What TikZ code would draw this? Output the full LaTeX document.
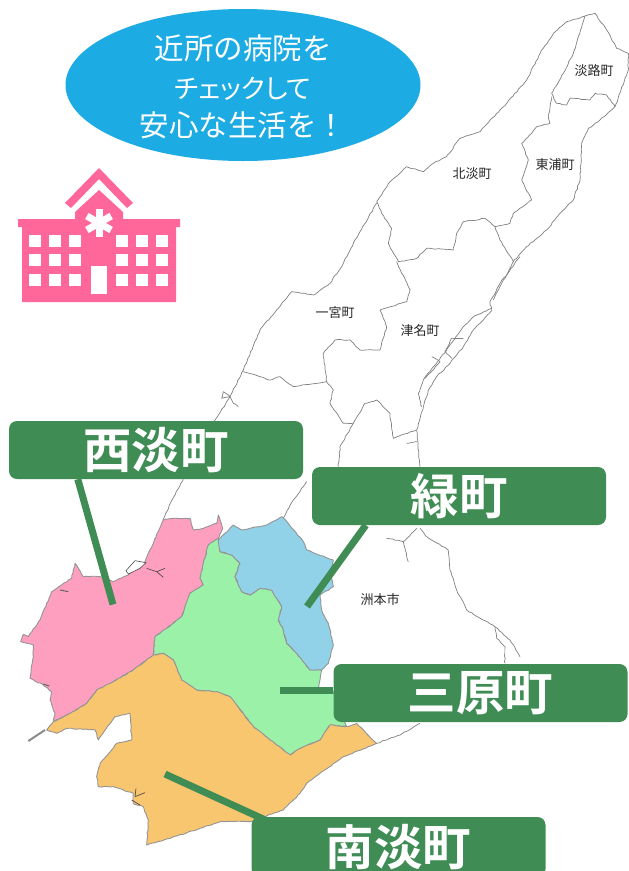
\documentclass[tikz,border=0pt]{standalone}
\usepackage{fontspec}
\usetikzlibrary{calc,shapes.geometric,decorations.pathmorphing}
\newfontfamily\cjk{Noto Sans CJK JP}[BoldFont={Noto Sans CJK JP Bold}]
\newfontfamily\cjkp{Noto Sans CJK JP}[RawFeature=+palt]
\definecolor{lblgreen}{HTML}{3F8C55}
\definecolor{bubble}{HTML}{1CABE3}
\definecolor{hosp}{HTML}{FF6699}
\definecolor{tpink}{HTML}{FF9FC0}
\definecolor{tblue}{HTML}{92D2E8}
\definecolor{tgreen}{HTML}{9CF1A9}
\definecolor{torange}{HTML}{F9C670}
\pgfmathsetseed{7}
\tikzset{
  z1/.style={shift={(300,0)},x=0.33333pt,y=-0.33333pt},
  z2/.style={shift={(180,180)},x=0.33333pt,y=-0.33333pt},
  z3/.style={shift={(0,500)},x=0.33333pt,y=-0.33333pt},
  z4/.style={shift={(200,500)},x=0.33333pt,y=-0.33333pt},
  mapline/.style={draw=black!50,line width=0.7pt,line join=round,decorate,decoration={random steps,segment length=3pt,amplitude=0.5pt}},
  town/.style={draw=black!42,line width=0.9pt,line join=round,decorate,decoration={random steps,segment length=3pt,amplitude=0.45pt}},
  maplabel/.style={font=\cjk\fontsize{13}{14}\selectfont,text=black!85,inner sep=0pt},
  banner/.style={fill=lblgreen,rounded corners=8pt,minimum width=294pt,minimum height=58pt,inner sep=0pt,text=white,font=\cjk\bfseries\fontsize{48.5}{50}\selectfont},
  leader/.style={draw=lblgreen,line width=7pt},
  window/.style={fill=white,minimum size=12pt,inner sep=0pt},
}
\begin{document}
\begin{tikzpicture}[x=1pt,y=-1pt]
\clip (0,0) rectangle (629,871);
\fill[white] (0,0) rectangle (629,871);

% island outline and municipal borders
\begin{scope}[z1]
\draw[mapline] (885,40)--(855,48)--(800,65)--(760,100)--(720,160)--(680,240)--(620,310)--(590,340)--(540,395)--(480,415)--(440,470)--(400,490)--(370,515)--(320,500)--(270,545)--(230,605);
\draw[mapline] (885,40)--(920,90)--(950,145)--(985,160)--(985,210)--(945,320)--(900,360)--(865,385)--(845,430)--(840,540)--(820,600)--(780,640)--(740,690)--(680,740)--(640,785)--(600,860)--(580,900);
\draw[mapline] (855,48)--(835,110)--(820,160)--(790,220)--(755,280)--(770,310)--(800,315)--(810,295)--(870,300)--(885,280)--(920,285)--(945,320);
\draw[mapline] (755,290)--(745,350)--(750,370)--(710,380)--(695,400)--(665,430)--(685,480)--(665,540)--(695,600)--(640,640)--(630,670)--(585,680)--(555,655)--(490,665)--(470,700)--(460,750)--(380,745)--(350,775)--(295,785)--(265,730)--(275,685)--(245,640)--(230,605);
\draw[mapline] (585,680)--(600,720)--(640,785);
\end{scope}
\begin{scope}[z2]
\draw[mapline] (590,70)--(520,190)--(490,250)--(450,310)--(400,345)--(335,335)--(290,390)--(240,450)--(190,570)--(150,650)--(105,720)--(-24,960)--(-51,1020);
\draw[mapline] (1020,230)--(960,310)--(930,365)--(935,392);
\draw[mapline] (935,385)--(880,410)--(850,440)--(800,510)--(760,560)--(730,600)--(715,640)--(725,680);
\draw[mapline] (935,392)--(880,450)--(850,500)--(810,550)--(770,590)--(745,630)--(730,680)--(710,750)--(720,860);
\draw[mapline] (795,515)--(815,535) (850,475)--(815,475)--(795,515) (755,530)--(780,545)--(735,595);
\draw[mapline] (650,245)--(690,330)--(680,365)--(600,390)--(620,440)--(600,510)--(540,510)--(510,480)--(465,480)--(430,520)--(440,605)--(340,620)--(300,590)--(270,600)--(190,575);
\draw[mapline] (440,605)--(460,630)--(450,670)--(490,730)--(520,730)--(555,670)--(590,660)--(630,700)--(640,775)--(710,750);
\draw[mapline] (520,730)--(480,800)--(475,860) (380,905)--(340,960)--(310,1015);
\draw[mapline] (680,790)--(712,785);
\draw[mapline] (125,655)--(130,635)--(150,650)--(125,655) (150,650)--(160,670)--(175,680);
\end{scope}
\begin{scope}[z4]
\draw[mapline] (660,85)--(680,110)--(745,150)--(750,210)--(770,270)--(800,330)--(885,380)--(930,420)--(960,470);
\draw[mapline] (885,380)--(890,415)--(915,440)--(915,490);
\draw[mapline] (560,115)--(610,125)--(625,185) (610,125)--(650,85);
\draw[mapline] (660,670)--(600,705)--(530,730);
\end{scope}

% the four coloured towns
\begin{scope}[z3]
\draw[town,fill=tpink] (490,60)--(520,55)--(570,55)--(580,90)--(610,85)--(650,70)--(655,45)--(668,85)--(655,115)--(625,135)--(610,190)--(600,235)--(610,255)--(570,280)--(545,350)--(500,385)--(465,410)--(460,465)--(400,510)--(340,545)--(290,570)--(260,610)--(210,640)--(160,665)--(165,640)--(150,600)--(155,575)--(130,555)--(90,535)--(100,470)--(100,435)--(62,425)--(70,403)--(85,410)--(120,360)--(155,275)--(215,235)--(225,190)--(250,230)--(300,230)--(340,245)--(385,225)--(435,185)--cycle;
\draw[town,fill=tgreen] (655,115)--(625,135)--(610,190)--(600,235)--(610,255)--(570,280)--(545,350)--(500,385)--(465,410)--(460,465)--(490,460)--(520,480)--(545,540)--(590,570)--(650,575)--(690,590)--(760,680)--(830,735)--(870,765)--(900,745)--(960,720)--(990,675)--(1040,680)--(1000,575)--(955,565)--(965,510)--(930,510)--(890,460)--(860,430)--(850,390)--(835,360)--(845,320)--(815,270)--(780,265)--(750,285)--(725,275)--(705,230)--(720,190)--(695,165)--(660,155)--cycle;
\draw[town,fill=torange] (490,460)--(520,480)--(545,540)--(590,570)--(650,575)--(690,590)--(760,680)--(830,735)--(870,765)--(900,745)--(960,720)--(990,675)--(1040,680)--(1070,670)--(1130,730)--(1030,770)--(920,850)--(900,880)--(850,930)--(750,965)--(660,965)--(600,985)--(510,1015)--(440,1035)--(445,960)--(430,920)--(400,910)--(400,880)--(340,860)--(295,860)--(290,830)--(300,790)--(350,730)--(395,720)--(390,640)--(345,650)--(315,690)--(295,720)--(285,690)--(200,685)--(170,700)--(140,690)--(160,665)--(210,640)--(260,610)--(290,570)--(340,545)--(400,510)--(460,465)--cycle;
\draw[draw=black!45,line width=2pt] (85,723)--(135,690);
\draw[draw=black!70,line width=0.6pt,fill=white] (378,212)--(405,182)--(438,188)--(420,205)--(385,222)--cycle;
\draw[draw=black!70,line width=0.7pt] (440,205)--(470,215)--(490,232) (470,215)--(495,205);
\draw[draw=black!70,line width=0.7pt] (405,890)--(408,865) (405,890)--(435,878) (395,900)--(420,915);
\draw[draw=black!60,line width=1pt] (180,270)--(205,275) (130,552)--(148,558);
\end{scope}
\begin{scope}[z4]
\draw[town,fill=tblue] (55,120)--(100,75)--(125,90)--(200,75)--(245,50)--(265,70)--(310,125)--(320,150)--(400,180)--(390,220)--(400,260)--(360,285)--(365,330)--(385,370)--(400,435)--(385,490)--(365,510)--(330,510)--(290,460)--(260,430)--(250,390)--(235,360)--(245,320)--(215,270)--(180,265)--(150,285)--(125,275)--(105,230)--(120,190)--(95,165)--(60,155)--cycle;
\end{scope}

% town names on the map
\node[maplabel] (awaji) at (594,71) {淡路町};
\node[maplabel] (hokudan) at (472,174) {北淡町};
\node[maplabel] (higashiura) at (555,165) {東浦町};
\node[maplabel] (ichinomiya) at (335,313) {一宮町};
\node[maplabel] (tsuna) at (420,331) {津名町};
\node[maplabel] (sumoto) at (380,600) {洲本市};

% bubble
\node[ellipse,fill=bubble,minimum width=355pt,minimum height=152pt,inner sep=0pt] (bubble) at (243,85) {};
\node[inner sep=0pt,text=white,align=center,font=\cjk\fontsize{29.5}{38.5}\selectfont] (bubbletext) at (243,87) {近所の病院を\\{\cjkp\fontsize{26.5}{38.5}\selectfont チェックして}\\安心な生活を！};

% hospital icon
\fill[hosp] (99,168)--(133,203)--(127,208)--(99,179)--(71,208)--(65,203)--cycle;
\fill[hosp] (99,190)--(123,212)--(123,219)--(180,219)--(180,227)--(176,227)--(176,302)--(22,302)--(22,227)--(18,227)--(18,219)--(75,219)--(75,212)--cycle;
\foreach \cx in {35,55,75,122,142,162}
  \foreach \cy in {241,260,280}
    \node[window] at (\cx,\cy) {};
\fill[white] (91,266) rectangle (107,294);
\foreach \ang in {90,30,-30}
  \draw[white,line width=7pt] ($(99,223)+(\ang:14)$) -- ($(99,223)+(\ang+180:14)$);

% banners
\node[banner] (west) at (156,450) {西淡町};
\node[banner] (midori) at (459,496) {緑町};
\node[banner] (mihara) at (480.5,693) {三原町};
\node[banner,minimum height=60pt] (minami) at (398.5,847) {南淡町};

% leaders
\coordinate (westtip) at (113,604.5);
\coordinate (midoritip) at (307,606.5);
\coordinate (miharatip) at (280,690);
\coordinate (minamitip) at (165,774);
\draw[leader] ($(west.south west)+(69,0)$) -- (westtip);
\draw[leader] ($(midori.south west)+(54,0)$) -- (midoritip);
\draw[leader] (mihara.west |- miharatip) -- (miharatip);
\draw[leader] ($(minami.north west)+(18,5)$) -- (minamitip);
\end{tikzpicture}
\end{document}
